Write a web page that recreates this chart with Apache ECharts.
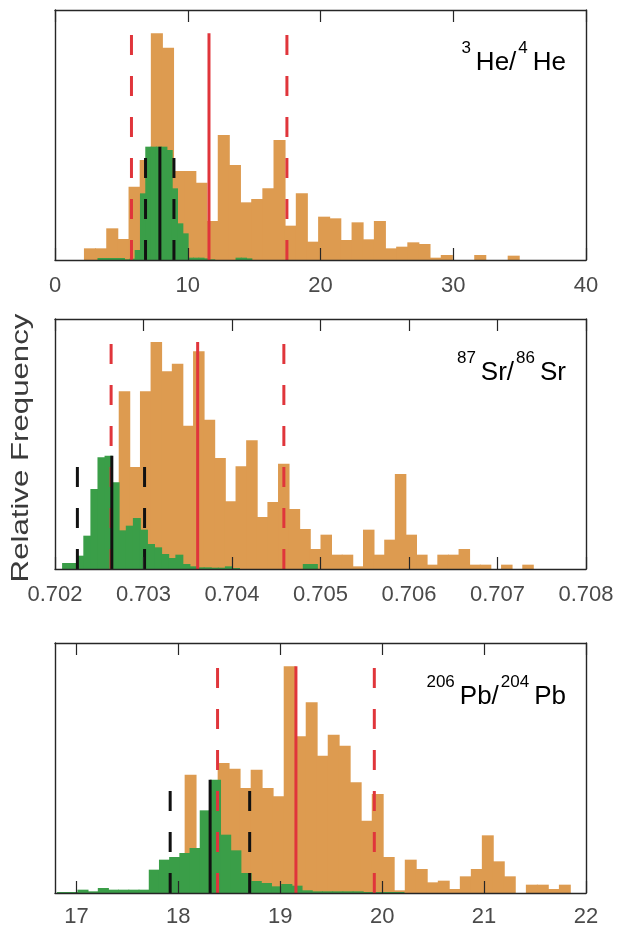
<!DOCTYPE html>
<html>
<head>
<meta charset="utf-8">
<script src="https://cdn.jsdelivr.net/npm/echarts@6/dist/echarts.min.js"></script>
<style>
html,body{margin:0;padding:0;background:#fff;}
#chart{width:619px;height:930px;}
</style>
</head>
<body>
<div id="chart"></div>
<script>
// ---------- DATA ----------
// Panel 1: 3He/4He
const heTicks = [0, 10, 20, 30, 40];
const heOrangeStart = 2.18, heOrangeWidth = 0.84;
const heOrange = [35, 35, 95, 63, 220, 300, 680, 637, 267, 267, 232, 117, 375, 285, 173, 183, 215, 360, 103, 200, 55, 130, 125, 60, 113, 62, 117, 35, 40, 53, 48, 7, 15, 0, 0, 15, 0, 0, 13];
const heGreenStart = 3.2, heGreenWidth = 0.4;
const heGreen = [6, 6, 6, 6, 6, 2, 4, 30, 200, 340, 340, 340, 340, 330, 215, 110, 80, 7, 7, 7, 5, 2, 0, 0, 0, 0, 7, 7, 5];
const heRedLines = [5.76, 11.6, 17.47];     // dashed, solid (mean), dashed
const heBlackLines = [6.82, 7.9, 8.96];     // dashed, solid (mean), dashed

// Panel 2: 87Sr/86Sr
const srTicks = [0.702, 0.703, 0.704, 0.705, 0.706, 0.707, 0.708];
const srOrangeStart = 0.70248, srOrangeWidth = 0.00012;
const srOrange = [30, 150, 533, 306, 533, 681, 593, 616, 430, 653, 448, 333, 203, 308, 386, 156, 201, 316, 180, 120, 60, 103, 43, 43, 8, 118, 43, 88, 285, 103, 43, 13, 43, 43, 60, 13, 13, 0, 13, 0, 13];
const srGreenStart = 0.70208, srGreenWidth = 0.00008;
const srGreen = [18, 18, 40, 100, 240, 335, 340, 260, 116, 130, 153, 118, 75, 65, 45, 33, 43, 15, 8, 5, 5, 4, 4, 8, 3, 0, 0, 0, 0, 0, 0, 0, 0, 0, 15, 15];
const srRedLines = [0.702634, 0.703612, 0.704586];
const srBlackLines = [0.702253, 0.702642, 0.703012];

// Panel 3: 206Pb/204Pb
const pbTicks = [17, 18, 19, 20, 21, 22];
const pbOrangeStart = 17.846, pbOrangeWidth = 0.108;
const pbOrange = [95, 105, 355, 130, 240, 390, 373, 315, 370, 315, 290, 680, 470, 572, 412, 475, 442, 332, 217, 297, 108, 8, 100, 72, 32, 37, 12, 50, 72, 173, 95, 50, 0, 25, 25, 12, 25];
const pbGreenStart = 16.81, pbGreenWidth = 0.1;
const pbGreen = [3, 3, 10, 5, 15, 10, 10, 10, 10, 70, 100, 108, 120, 135, 248, 340, 175, 128, 60, 36, 30, 20, 27, 22, 8, 5, 5, 5, 5, 5, 3, 3, 3, 3];
const pbRedLines = [18.385, 19.154, 19.923];
const pbBlackLines = [17.92, 18.312, 18.70];

// ---------- STYLE ----------
const ORANGE = '#dd9b50';
const GREEN = '#3a9e48';
const RED = '#e0353b';
const BLACK = '#111111';
const AXIS = '#262626';
const TEXT = '#4a4a4a';
const FONT = '"Liberation Sans", Arial, sans-serif';
const YMAX = 750;

const panels = [
  { ticks: heTicks, min: 0, max: 40, top: 10, dec: 0, margin: 15,
    orange: [heOrangeStart, heOrangeWidth, heOrange], green: [heGreenStart, heGreenWidth, heGreen],
    red: heRedLines, black: heBlackLines },
  { ticks: srTicks, min: 0.702, max: 0.708, top: 319, dec: 3, margin: 15,
    orange: [srOrangeStart, srOrangeWidth, srOrange], green: [srGreenStart, srGreenWidth, srGreen],
    red: srRedLines, black: srBlackLines },
  { ticks: pbTicks, min: 16.79, max: 22, top: 643, dec: 0, margin: 13,
    orange: [pbOrangeStart, pbOrangeWidth, pbOrange], green: [pbGreenStart, pbGreenWidth, pbGreen],
    red: pbRedLines, black: pbBlackLines }
];

function bins(spec) {
  const [start, w, vals] = spec;
  return vals.map((v, i) => [start + i * w, start + (i + 1) * w, v]);
}

function binRenderer(color) {
  return function (params, api) {
    const h = api.value(2);
    if (!h) return null;
    const p0 = api.coord([api.value(0), h]);
    const p1 = api.coord([api.value(1), 0]);
    return {
      type: 'rect',
      shape: { x: p0[0], y: p0[1], width: p1[0] - p0[0] + 0.9, height: p1[1] - p0[1] },
      style: { fill: color }
    };
  };
}

const grid = [], xAxis = [], yAxis = [], series = [];
panels.forEach((p, k) => {
  grid.push({ left: 55, right: 33, top: p.top, height: 250 });
  const fmt = v => Number(v).toFixed(p.dec);
  const useInterval = (k !== 2);
  const base = {
    gridIndex: k, type: 'value', min: p.min, max: p.max, z: 10,
    splitLine: { show: false },
    axisLine: { show: true, onZero: false, lineStyle: { color: AXIS, width: 1.4 } },
    axisTick: { show: true, inside: true, length: 12, lineStyle: { color: AXIS, width: 1.2 }, customValues: p.ticks },
    axisLabel: { show: true, customValues: p.ticks, formatter: fmt, showMinLabel: true,
      margin: p.margin, color: TEXT, fontSize: 22, fontFamily: FONT }
  };
  if (useInterval) base.interval = p.ticks[1] - p.ticks[0];
  else base.splitNumber = 5;
  xAxis.push(Object.assign({}, base, { position: 'bottom' }));
  xAxis.push(Object.assign({}, base, { position: 'top',
    axisLabel: { show: false, customValues: p.ticks } }));
  const ybase = { gridIndex: k, type: 'value', min: 0, max: YMAX, z: 10,
    splitLine: { show: false }, axisTick: { show: false }, axisLabel: { show: false },
    axisLine: { show: true, onZero: false, lineStyle: { color: AXIS, width: 1.4 } } };
  yAxis.push(Object.assign({}, ybase, { position: 'left' }));
  yAxis.push(Object.assign({}, ybase, { position: 'right' }));

  const xi = 2 * k, yi = 2 * k;
  series.push({ type: 'custom', xAxisIndex: xi, yAxisIndex: yi, renderItem: binRenderer(ORANGE),
    encode: { x: [0, 1], y: 2 }, data: bins(p.orange), z: 2 });
  series.push({ type: 'custom', xAxisIndex: xi, yAxisIndex: yi, renderItem: binRenderer(GREEN),
    encode: { x: [0, 1], y: 2 }, data: bins(p.green), z: 3 });
  const oMax = Math.max(...p.orange[2]);
  const gMax = Math.max(...p.green[2]);
  p.red.forEach((x, i) => {
    series.push({ type: 'line', xAxisIndex: xi, yAxisIndex: yi, data: [[x, 0], [x, oMax]],
      showSymbol: false, symbol: 'none', z: 4, silent: true,
      lineStyle: { color: RED, width: 3, type: i === 1 ? 'solid' : [20, 21] } });
  });
  p.black.forEach((x, i) => {
    series.push({ type: 'line', xAxisIndex: xi, yAxisIndex: yi, data: [[x, 0], [x, gMax]],
      showSymbol: false, symbol: 'none', z: 5, silent: true,
      lineStyle: { color: BLACK, width: 3, type: i === 1 ? 'solid' : [20, 21] } });
  });
});

const rich = {
  m: { fontSize: 26, fontFamily: FONT, color: '#3a3a3a', lineHeight: 36, verticalAlign: 'bottom' },
  s: { fontSize: 17, fontFamily: FONT, color: '#3a3a3a', lineHeight: 17, verticalAlign: 'top', padding: [0, 5, 0, 2] }
};
function label(text, y) {
  return { type: 'text', x: 566, y: y, z: 20,
    style: { text: text, align: 'right', verticalAlign: 'middle', rich: rich } };
}

const chart = echarts.init(document.getElementById('chart'), null, { renderer: 'canvas' });
chart.setOption({
  animation: false,
  backgroundColor: '#fff',
  grid, xAxis, yAxis, series,
  graphic: [
    label('{s|3}{m|He/}{s|4}{m|He}', 58),
    label('{s|87}{m|Sr/}{s|86}{m|Sr}', 368),
    label('{s|206}{m|Pb/}{s|204}{m|Pb}', 692),
    { type: 'text', x: 21, y: 448, rotation: Math.PI / 2, scaleX: 1.3, z: 20,
      style: { text: 'Relative Frequency', align: 'center', verticalAlign: 'middle',
        fontSize: 24, fontFamily: FONT, fill: '#3a3a3a' } }
  ]
});
</script>
</body>
</html>
